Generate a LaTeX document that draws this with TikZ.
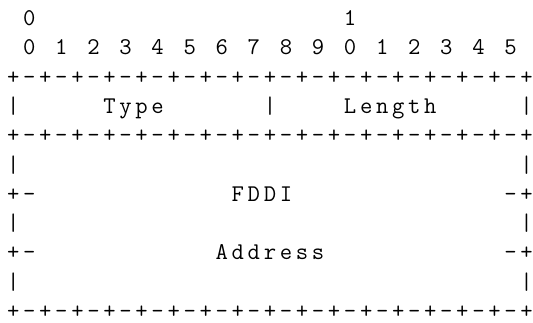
\documentclass[tikz,border=0pt]{standalone}
\usepackage{fontspec}
\usepackage{tikz}
\usetikzlibrary{positioning}
\newcommand{\cellw}{16.04bp}
\newcommand{\rowh}{29.3bp}
\tikzset{
  glyph/.style={font=\ttfamily\fontsize{24bp}{24bp}\selectfont, inner sep=0pt, anchor=base},
}

\begin{document}
\begin{tikzpicture}
  \useasboundingbox (0,0) rectangle (533bp,-323bp);
  \begin{scope}[shift={(13.3bp,-25.5bp)}, x=\cellw, y=-\rowh]
  % Bit numbers
  \node[glyph] (ten0) at (1,0) {0};
  \node[glyph] (ten1) at (21,0) {1};
  \foreach \i in {0,...,15} {
    \pgfmathtruncatemacro{\d}{mod(\i,10)}
    \node[glyph] (bit\i) at (2*\i+1,1) {\d};
  }
  % Separator rows
  \foreach \r in {2,4,10} {
    \foreach \c in {0,2,...,32} \node[glyph] (p\r-\c) at (\c,\r) {+};
    \foreach \c in {1,3,...,31} \node[glyph] (m\r-\c) at (\c,\r) {-};
  }
  % Side bars
  \foreach \r in {3,5,7,9} {
    \node[glyph] (lbar\r) at (0,\r) {|};
    \node[glyph] (rbar\r) at (32,\r) {|};
  }
  \node[glyph] (midbar) at (16,3) {|};
  % Marks beside the address
  \foreach \r in {6,8} {
    \node[glyph] (lp\r) at (0,\r) {+};
    \node[glyph] (lm\r) at (1,\r) {-};
    \node[glyph] (rm\r) at (31,\r) {-};
    \node[glyph] (rp\r) at (32,\r) {+};
  }
  % Field names
  \foreach \word/\c/\r in {{T,y,p,e}/6/3, {L,e,n,g,t,h}/21/3, {F,D,D,I}/14/6, {A,d,d,r,e,s,s}/13/8}
    \foreach \ch [count=\k from 0] in \word
      \node[glyph] (w\r-\c-\k) at (\c+\k,\r) {\ch};
  \end{scope}
\end{tikzpicture}
\end{document}
